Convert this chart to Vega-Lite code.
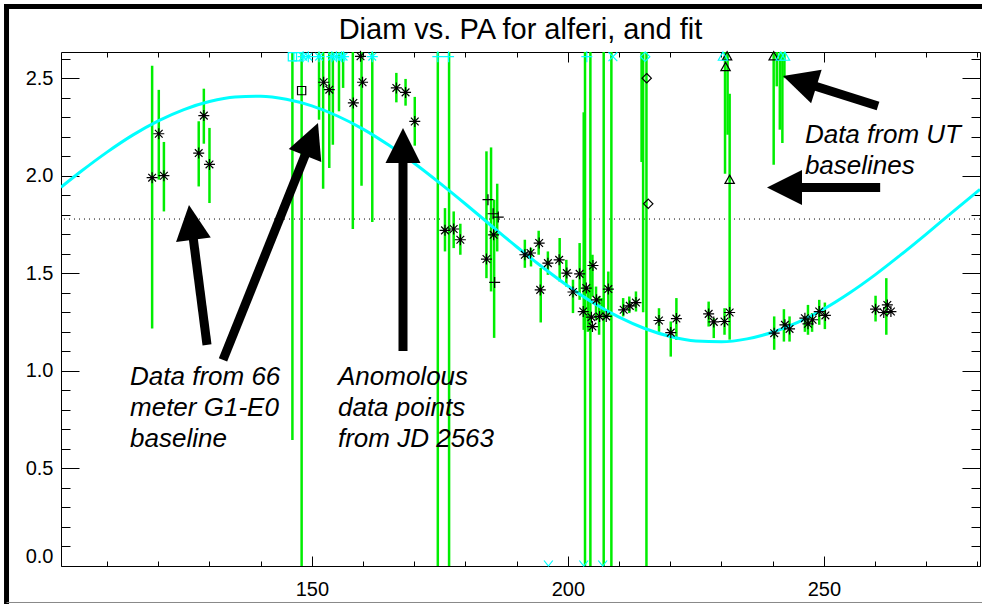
{
  "$schema": "https://vega.github.io/schema/vega-lite/v6.json",
  "width": 919,
  "height": 514,
  "autosize": {"type": "none"},
  "padding": {"left": 61, "top": 52, "right": 2, "bottom": 38},
  "background": "white",
  "title": {"text": "Diam vs. PA for alferi, and fit", "font": "Liberation Sans", "fontSize": 29, "fontWeight": "normal", "color": "black", "anchor": "middle", "frame": "group", "offset": 0, "dy": 67, "baseline": "alphabetic"},
  "config": {
    "view": {"stroke": null},
    "axis": {"domainColor": "black", "domainWidth": 1, "tickColor": "black", "tickWidth": 1, "labelColor": "black", "labelFont": "Liberation Sans", "labelFontSize": 20, "grid": false, "labelOverlap": false, "title": null}
  },
  "datasets": {
    "frame": [
      {"side": "left", "pa": 90.36, "diam": -0.2, "pa2": 90.36, "diam2": 2.88},
      {"side": "top", "pa": 89.87, "diam": 2.867, "pa2": 282, "diam2": 2.867},
      {"side": "bottom", "pa": 90.36, "diam": -0.187, "pa2": 282, "diam2": -0.187}
    ],
    "ref": [{"diam": 1.778}],
    "curve": [
      {"pa": 101, "diam": 1.941}, {"pa": 105, "diam": 2.024}, {"pa": 110, "diam": 2.121}, {"pa": 115, "diam": 2.208},
      {"pa": 120, "diam": 2.281}, {"pa": 125, "diam": 2.339}, {"pa": 130, "diam": 2.380}, {"pa": 135, "diam": 2.403},
      {"pa": 140, "diam": 2.407}, {"pa": 145, "diam": 2.392}, {"pa": 150, "diam": 2.358}, {"pa": 155, "diam": 2.306},
      {"pa": 160, "diam": 2.239}, {"pa": 165, "diam": 2.157}, {"pa": 170, "diam": 2.064}, {"pa": 175, "diam": 1.962},
      {"pa": 180, "diam": 1.855}, {"pa": 185, "diam": 1.745}, {"pa": 190, "diam": 1.636}, {"pa": 195, "diam": 1.532},
      {"pa": 200, "diam": 1.435}, {"pa": 205, "diam": 1.348}, {"pa": 210, "diam": 1.275}, {"pa": 215, "diam": 1.217},
      {"pa": 220, "diam": 1.176}, {"pa": 225, "diam": 1.153}, {"pa": 230, "diam": 1.149}, {"pa": 235, "diam": 1.164},
      {"pa": 240, "diam": 1.198}, {"pa": 245, "diam": 1.250}, {"pa": 250, "diam": 1.317}, {"pa": 255, "diam": 1.399},
      {"pa": 260, "diam": 1.492}, {"pa": 265, "diam": 1.594}, {"pa": 270, "diam": 1.701}, {"pa": 275, "diam": 1.811},
      {"pa": 280.5, "diam": 1.930}
    ],
    "bars": [
      {"pa": 118.8, "lo": 1.217, "hi": 2.564}, {"pa": 120.1, "lo": 1.98, "hi": 2.44}, {"pa": 121.1, "lo": 1.817, "hi": 2.173},
      {"pa": 127.9, "lo": 1.945, "hi": 2.279}, {"pa": 128.9, "lo": 2.164, "hi": 2.446}, {"pa": 130.0, "lo": 1.86, "hi": 2.245},
      {"pa": 146.2, "lo": 0.646, "hi": 3.5}, {"pa": 148.0, "lo": -0.5, "hi": 3.5}, {"pa": 151.4, "lo": 2.287, "hi": 3.5},
      {"pa": 152.2, "lo": 1.933, "hi": 3.5}, {"pa": 153.4, "lo": 2.04, "hi": 3.5}, {"pa": 154.1, "lo": 2.159, "hi": 3.5},
      {"pa": 155.3, "lo": 2.33, "hi": 3.5}, {"pa": 156.1, "lo": 2.45, "hi": 3.5}, {"pa": 158.0, "lo": 1.727, "hi": 3.5},
      {"pa": 159.7, "lo": 1.949, "hi": 3.5}, {"pa": 161.8, "lo": 1.763, "hi": 3.5}, {"pa": 166.5, "lo": 2.376, "hi": 2.527},
      {"pa": 168.3, "lo": 2.359, "hi": 2.496}, {"pa": 170.1, "lo": 2.154, "hi": 2.404}, {"pa": 174.6, "lo": -0.5, "hi": 3.5},
      {"pa": 176.8, "lo": -0.5, "hi": 3.5}, {"pa": 176.0, "lo": 1.612, "hi": 1.834}, {"pa": 177.7, "lo": 1.629, "hi": 1.817},
      {"pa": 179.0, "lo": 1.595, "hi": 1.754}, {"pa": 184.1, "lo": 1.475, "hi": 2.125}, {"pa": 185.0, "lo": 1.407, "hi": 2.145},
      {"pa": 185.6, "lo": 1.169, "hi": 1.877}, {"pa": 186.2, "lo": 1.612, "hi": 1.959}, {"pa": 191.6, "lo": 1.528, "hi": 1.672},
      {"pa": 192.8, "lo": 1.535, "hi": 1.631}, {"pa": 194.3, "lo": 1.595, "hi": 1.718}, {"pa": 194.7, "lo": 1.248, "hi": 1.527},
      {"pa": 196.1, "lo": 1.492, "hi": 1.612}, {"pa": 198.4, "lo": 1.458, "hi": 1.681}, {"pa": 199.7, "lo": 1.432, "hi": 1.569},
      {"pa": 201.0, "lo": 1.296, "hi": 1.467}, {"pa": 202.3, "lo": 1.364, "hi": 1.655}, {"pa": 203.1, "lo": 1.21, "hi": 2.325},
      {"pa": 203.35, "lo": -0.5, "hi": 3.5}, {"pa": 204.4, "lo": -0.5, "hi": 3.5}, {"pa": 203.9, "lo": 1.2, "hi": 1.415},
      {"pa": 204.8, "lo": 1.381, "hi": 1.595}, {"pa": 205.5, "lo": 1.262, "hi": 1.432}, {"pa": 206.1, "lo": 1.185, "hi": 1.381},
      {"pa": 207.0, "lo": -0.5, "hi": 3.5}, {"pa": 206.6, "lo": 1.287, "hi": 1.373}, {"pa": 207.9, "lo": 1.279, "hi": 1.509},
      {"pa": 208.5, "lo": -0.5, "hi": 3.5}, {"pa": 210.8, "lo": 1.279, "hi": 1.373}, {"pa": 212.0, "lo": 1.296, "hi": 1.381},
      {"pa": 213.3, "lo": 1.304, "hi": 1.407}, {"pa": 214.4, "lo": 2.07, "hi": 3.5}, {"pa": 214.7, "lo": 1.3, "hi": 3.5},
      {"pa": 215.35, "lo": -0.5, "hi": 3.5}, {"pa": 217.8, "lo": 1.2, "hi": 1.321}, {"pa": 220.1, "lo": 1.073, "hi": 1.253},
      {"pa": 221.2, "lo": 1.159, "hi": 1.373}, {"pa": 227.5, "lo": 1.227, "hi": 1.355}, {"pa": 228.5, "lo": 1.168, "hi": 1.27},
      {"pa": 230.6, "lo": 1.185, "hi": 1.321}, {"pa": 230.7, "lo": 2.01, "hi": 3.5}, {"pa": 231.2, "lo": 2.21, "hi": 3.5},
      {"pa": 231.6, "lo": 1.16, "hi": 2.42}, {"pa": 240.2, "lo": 2.056, "hi": 3.5}, {"pa": 240.8, "lo": 2.458, "hi": 3.5},
      {"pa": 241.4, "lo": 2.236, "hi": 3.5}, {"pa": 241.9, "lo": 2.168, "hi": 3.5}, {"pa": 242.3, "lo": 2.5, "hi": 3.5},
      {"pa": 240.3, "lo": 1.108, "hi": 1.279}, {"pa": 242.2, "lo": 1.15, "hi": 1.316}, {"pa": 243.3, "lo": 1.15, "hi": 1.279},
      {"pa": 246.3, "lo": 1.2, "hi": 1.279}, {"pa": 246.9, "lo": 1.185, "hi": 1.338}, {"pa": 247.7, "lo": 1.2, "hi": 1.296},
      {"pa": 249.1, "lo": 1.236, "hi": 1.364}, {"pa": 250.2, "lo": 1.214, "hi": 1.35}, {"pa": 260.1, "lo": 1.253, "hi": 1.385},
      {"pa": 262.2, "lo": 1.185, "hi": 1.475}
    ],
    "pts": [
      {"pa": 118.8, "diam": 1.99, "sym": "asterisk"}, {"pa": 120.1, "diam": 2.215, "sym": "asterisk"}, {"pa": 121.1, "diam": 2.0, "sym": "asterisk"},
      {"pa": 127.9, "diam": 2.116, "sym": "asterisk"}, {"pa": 128.9, "diam": 2.308, "sym": "asterisk"}, {"pa": 130.0, "diam": 2.058, "sym": "asterisk"},
      {"pa": 148.0, "diam": 2.436, "sym": "square"},
      {"pa": 152.3, "diam": 2.479, "sym": "asterisk"}, {"pa": 153.4, "diam": 2.441, "sym": "asterisk"}, {"pa": 158.1, "diam": 2.373, "sym": "asterisk"},
      {"pa": 159.9, "diam": 2.479, "sym": "asterisk"}, {"pa": 159.5, "diam": 2.612, "sym": "asterisk"}, {"pa": 166.5, "diam": 2.45, "sym": "asterisk"},
      {"pa": 168.3, "diam": 2.427, "sym": "asterisk"}, {"pa": 170.1, "diam": 2.278, "sym": "asterisk"}, {"pa": 176.0, "diam": 1.72, "sym": "asterisk"},
      {"pa": 177.7, "diam": 1.727, "sym": "asterisk"}, {"pa": 179.0, "diam": 1.672, "sym": "asterisk"}, {"pa": 185.5, "diam": 1.697, "sym": "asterisk"},
      {"pa": 184.1, "diam": 1.573, "sym": "asterisk"},
      {"pa": 184.4, "diam": 1.877, "sym": "plus"}, {"pa": 185.4, "diam": 1.805, "sym": "plus"}, {"pa": 186.4, "diam": 1.788, "sym": "plus"}, {"pa": 185.7, "diam": 1.453, "sym": "plus"},
      {"pa": 191.6, "diam": 1.595, "sym": "asterisk"}, {"pa": 192.7, "diam": 1.604, "sym": "asterisk"}, {"pa": 194.4, "diam": 1.655, "sym": "asterisk"},
      {"pa": 196.1, "diam": 1.552, "sym": "asterisk"}, {"pa": 194.6, "diam": 1.415, "sym": "asterisk"}, {"pa": 198.3, "diam": 1.569, "sym": "asterisk"},
      {"pa": 199.8, "diam": 1.501, "sym": "asterisk"}, {"pa": 202.3, "diam": 1.497, "sym": "asterisk"}, {"pa": 201.0, "diam": 1.404, "sym": "asterisk"},
      {"pa": 204.9, "diam": 1.54, "sym": "asterisk"}, {"pa": 203.6, "diam": 1.424, "sym": "asterisk"}, {"pa": 207.9, "diam": 1.419, "sym": "asterisk"},
      {"pa": 205.6, "diam": 1.364, "sym": "asterisk"}, {"pa": 203.0, "diam": 1.304, "sym": "asterisk"}, {"pa": 206.2, "diam": 1.279, "sym": "asterisk"},
      {"pa": 207.5, "diam": 1.279, "sym": "asterisk"}, {"pa": 204.8, "diam": 1.227, "sym": "asterisk"}, {"pa": 204.6, "diam": 1.275, "sym": "asterisk"},
      {"pa": 210.9, "diam": 1.313, "sym": "asterisk"}, {"pa": 212.1, "diam": 1.333, "sym": "asterisk"}, {"pa": 213.3, "diam": 1.35, "sym": "asterisk"},
      {"pa": 215.4, "diam": 2.50, "sym": "diamond"}, {"pa": 215.7, "diam": 1.856, "sym": "diamond"},
      {"pa": 217.8, "diam": 1.258, "sym": "asterisk"}, {"pa": 220.1, "diam": 1.196, "sym": "asterisk"}, {"pa": 221.2, "diam": 1.268, "sym": "asterisk"},
      {"pa": 227.5, "diam": 1.292, "sym": "asterisk"}, {"pa": 228.5, "diam": 1.251, "sym": "asterisk"}, {"pa": 230.6, "diam": 1.253, "sym": "asterisk"},
      {"pa": 231.6, "diam": 1.299, "sym": "asterisk"},
      {"pa": 230.8, "diam": 2.557, "sym": "triangle"}, {"pa": 231.6, "diam": 1.979, "sym": "triangle"}, {"pa": 231.1, "diam": 2.612, "sym": "triangle"}, {"pa": 240.2, "diam": 2.612, "sym": "triangle"},
      {"pa": 240.3, "diam": 1.193, "sym": "asterisk"}, {"pa": 242.4, "diam": 1.236, "sym": "asterisk"}, {"pa": 243.3, "diam": 1.215, "sym": "asterisk"},
      {"pa": 246.3, "diam": 1.27, "sym": "asterisk"}, {"pa": 246.9, "diam": 1.241, "sym": "asterisk"}, {"pa": 247.8, "diam": 1.262, "sym": "asterisk"},
      {"pa": 249.1, "diam": 1.304, "sym": "asterisk"}, {"pa": 250.3, "diam": 1.284, "sym": "asterisk"}, {"pa": 260.1, "diam": 1.316, "sym": "asterisk"},
      {"pa": 261.7, "diam": 1.299, "sym": "asterisk"}, {"pa": 262.4, "diam": 1.338, "sym": "asterisk"}, {"pa": 263.1, "diam": 1.304, "sym": "asterisk"}
    ],
    "edge": [
      {"pa": 146.2, "diam": 2.61, "sym": "square"}, {"pa": 147.3, "diam": 2.61, "sym": "square"}, {"pa": 148.3, "diam": 2.61, "sym": "asterisk"},
      {"pa": 149.3, "diam": 2.61, "sym": "asterisk"}, {"pa": 151.4, "diam": 2.61, "sym": "asterisk"}, {"pa": 153.9, "diam": 2.61, "sym": "asterisk"},
      {"pa": 154.8, "diam": 2.61, "sym": "asterisk"}, {"pa": 155.8, "diam": 2.61, "sym": "asterisk"}, {"pa": 156.2, "diam": 2.61, "sym": "asterisk"},
      {"pa": 161.8, "diam": 2.61, "sym": "asterisk"}, {"pa": 174.6, "diam": 2.61, "sym": "plus"}, {"pa": 176.7, "diam": 2.61, "sym": "plus"},
      {"pa": 203.7, "diam": 2.61, "sym": "plus"}, {"pa": 208.8, "diam": 2.61, "sym": "x"}, {"pa": 215.1, "diam": 2.61, "sym": "diamond"},
      {"pa": 230.3, "diam": 2.61, "sym": "triangle"}, {"pa": 241.6, "diam": 2.61, "sym": "triangle"}, {"pa": 242.4, "diam": 2.61, "sym": "triangle"},
      {"pa": 196.2, "diam": 0.0, "sym": "v"}, {"pa": 203.1, "diam": 0.0, "sym": "v"}, {"pa": 206.8, "diam": 0.0, "sym": "v"}
    ],
    "shafts": [
      {"id": 1, "pa": 129.52, "diam": 1.133, "pa2": 126.43, "diam2": 1.761},
      {"id": 2, "pa": 132.64, "diam": 1.056, "pa2": 149.93, "diam2": 2.187},
      {"id": 3, "pa": 167.8, "diam": 1.102, "pa2": 167.8, "diam2": 2.155},
      {"id": 4, "pa": 260.58, "diam": 2.357, "pa2": 245.28, "diam2": 2.484},
      {"id": 5, "pa": 261.0, "diam": 1.94, "pa2": 242.31, "diam2": 1.94}
    ],
    "heads": [
      {"id": 1, "pa": 126.43, "diam": 1.761},
      {"id": 2, "pa": 149.93, "diam": 2.187},
      {"id": 3, "pa": 167.8, "diam": 2.155},
      {"id": 4, "pa": 245.28, "diam": 2.484},
      {"id": 5, "pa": 242.31, "diam": 1.94}
    ],
    "notes": [
      {"pa": 114.48, "diam": 0.969, "text": "Data from 66"},
      {"pa": 114.48, "diam": 0.810, "text": "meter G1-E0"},
      {"pa": 114.48, "diam": 0.651, "text": "baseline"},
      {"pa": 155.1, "diam": 0.969, "text": "Anomolous"},
      {"pa": 155.1, "diam": 0.810, "text": "data points"},
      {"pa": 155.1, "diam": 0.651, "text": "from JD 2563"},
      {"pa": 246.3, "diam": 2.209, "text": "Data from UT"},
      {"pa": 246.3, "diam": 2.050, "text": "baselines"}
    ]
  },
  "resolve": {"axis": {"x": "independent", "y": "independent"}},
  "layer": [
    {
      "data": {"name": "frame"},
      "transform": [{"filter": "datum.side !== 'bottom'"}],
      "mark": {"type": "rule", "clip": false, "color": "black", "strokeWidth": 5, "strokeCap": "butt"},
      "encoding": {
        "x": {"field": "pa", "type": "quantitative", "scale": {"domain": [101, 280.5], "nice": false, "zero": false}, "axis": null},
        "y": {"field": "diam", "type": "quantitative", "scale": {"domain": [0, 2.634], "nice": false, "zero": false}, "axis": null},
        "x2": {"field": "pa2"},
        "y2": {"field": "diam2"}
      }
    },
    {
      "data": {"name": "frame"},
      "transform": [{"filter": "datum.side === 'bottom'"}],
      "mark": {"type": "rule", "clip": false, "color": "#888888", "strokeWidth": 1},
      "encoding": {
        "x": {"field": "pa", "type": "quantitative", "scale": {"domain": [101, 280.5], "nice": false, "zero": false}, "axis": null},
        "y": {"field": "diam", "type": "quantitative", "scale": {"domain": [0, 2.634], "nice": false, "zero": false}, "axis": null},
        "x2": {"field": "pa2"},
        "y2": {"field": "diam2"}
      }
    },
    {
      "data": {"name": "ref"},
      "mark": {"type": "rule", "color": "black", "strokeWidth": 1, "strokeDash": [1, 4]},
      "encoding": {
        "y": {"field": "diam", "type": "quantitative", "scale": {"domain": [0, 2.634], "nice": false, "zero": false}, "axis": null}
      }
    },
    {
      "data": {"name": "bars"},
      "mark": {"type": "rule", "color": "#00ee00", "strokeWidth": 2.5, "clip": true},
      "encoding": {
        "x": {"field": "pa", "type": "quantitative", "scale": {"domain": [101, 280.5], "nice": false, "zero": false},
          "axis": {"orient": "bottom", "values": [110, 120, 130, 140, 150, 160, 170, 180, 190, 200, 210, 220, 230, 240, 250, 260, 270, 280],
            "labelExpr": "datum.value % 50 === 0 ? datum.label : ''",
            "tickSize": {"condition": {"test": "datum.value % 50 === 0", "value": -10}, "value": -5},
            "labelPadding": 23}},
        "y": {"field": "lo", "type": "quantitative", "scale": {"domain": [0, 2.634], "nice": false, "zero": false},
          "axis": {"orient": "left", "values": [0, 0.1, 0.2, 0.3, 0.4, 0.5, 0.6, 0.7, 0.8, 0.9, 1.0, 1.1, 1.2, 1.3, 1.4, 1.5, 1.6, 1.7, 1.8, 1.9, 2.0, 2.1, 2.2, 2.3, 2.4, 2.5, 2.6],
            "labelExpr": "round(datum.value * 10) % 5 === 0 ? format(datum.value, '.1f') : ''",
            "tickSize": {"condition": {"test": "round(datum.value * 10) % 5 === 0", "value": -18}, "value": -9},
            "labelBaseline": {"condition": {"test": "datum.value === 0", "value": "bottom"}, "value": "middle"},
            "labelPadding": 26}},
        "y2": {"field": "hi"}
      }
    },
    {
      "data": {"name": "curve"},
      "mark": {"type": "line", "color": "#00ffff", "strokeWidth": 3, "interpolate": "monotone", "clip": true},
      "encoding": {
        "x": {"field": "pa", "type": "quantitative", "scale": {"domain": [101, 280.5], "nice": false, "zero": false},
          "axis": {"orient": "top", "labels": false, "values": [110, 120, 130, 140, 150, 160, 170, 180, 190, 200, 210, 220, 230, 240, 250, 260, 270, 280],
            "tickSize": {"condition": {"test": "datum.value % 50 === 0", "value": -10}, "value": -5}}},
        "y": {"field": "diam", "type": "quantitative", "scale": {"domain": [0, 2.634], "nice": false, "zero": false},
          "axis": {"orient": "right", "labels": false, "values": [0, 0.1, 0.2, 0.3, 0.4, 0.5, 0.6, 0.7, 0.8, 0.9, 1.0, 1.1, 1.2, 1.3, 1.4, 1.5, 1.6, 1.7, 1.8, 1.9, 2.0, 2.1, 2.2, 2.3, 2.4, 2.5, 2.6],
            "tickSize": {"condition": {"test": "round(datum.value * 10) % 5 === 0", "value": -18}, "value": -9}}}
      }
    },
    {
      "data": {"name": "pts"},
      "mark": {"type": "point", "filled": false, "strokeWidth": 1.2, "opacity": 1, "color": "black", "size": 121},
      "encoding": {
        "x": {"field": "pa", "type": "quantitative", "scale": {"domain": [101, 280.5], "nice": false, "zero": false}, "axis": null},
        "y": {"field": "diam", "type": "quantitative", "scale": {"domain": [0, 2.634], "nice": false, "zero": false}, "axis": null},
        "shape": {"field": "sym", "type": "nominal", "legend": null,
          "scale": {"domain": ["asterisk", "plus", "square", "diamond", "triangle", "x", "v"],
            "range": ["M-1,0L1,0M0,-1L0,1M-0.7,-0.7L0.7,0.7M-0.7,0.7L0.7,-0.7", "M-1,0L1,0M0,-1L0,1", "M-0.75,-0.75L0.75,-0.75L0.75,0.75L-0.75,0.75Z", "M0,-0.85L0.85,0L0,0.85L-0.85,0Z", "M0,-0.85L0.85,0.65L-0.85,0.65Z", "M-0.8,-0.8L0.8,0.8M-0.8,0.8L0.8,-0.8", "M-0.8,-1L0,0L0.8,-1"]}}
      }
    },
    {
      "data": {"name": "edge"},
      "mark": {"type": "point", "filled": false, "strokeWidth": 1.2, "opacity": 1, "color": "#00ffff", "size": 121, "clip": false},
      "encoding": {
        "x": {"field": "pa", "type": "quantitative", "scale": {"domain": [101, 280.5], "nice": false, "zero": false}, "axis": null},
        "y": {"field": "diam", "type": "quantitative", "scale": {"domain": [0, 2.634], "nice": false, "zero": false}, "axis": null},
        "shape": {"field": "sym", "type": "nominal", "legend": null}
      }
    },
    {
      "data": {"name": "shafts"},
      "mark": {"type": "rule", "color": "black", "strokeWidth": 9, "strokeCap": "butt"},
      "encoding": {
        "x": {"field": "pa", "type": "quantitative", "scale": {"domain": [101, 280.5], "nice": false, "zero": false}, "axis": null},
        "y": {"field": "diam", "type": "quantitative", "scale": {"domain": [0, 2.634], "nice": false, "zero": false}, "axis": null},
        "x2": {"field": "pa2"},
        "y2": {"field": "diam2"}
      }
    },
    {
      "data": {"name": "heads"},
      "transform": [{"filter": "datum.id === 1"}],
      "mark": {"type": "point", "shape": "M0,-1L1,1L-1,1Z", "filled": true, "color": "black", "opacity": 1, "size": 1225, "angle": 352.7},
      "encoding": {
        "x": {"field": "pa", "type": "quantitative", "scale": {"domain": [101, 280.5], "nice": false, "zero": false}, "axis": null},
        "y": {"field": "diam", "type": "quantitative", "scale": {"domain": [0, 2.634], "nice": false, "zero": false}, "axis": null}
      }
    },
    {
      "data": {"name": "heads"},
      "transform": [{"filter": "datum.id === 2"}],
      "mark": {"type": "point", "shape": "M0,-1L1,1L-1,1Z", "filled": true, "color": "black", "opacity": 1, "size": 1225, "angle": 21.8},
      "encoding": {
        "x": {"field": "pa", "type": "quantitative", "scale": {"domain": [101, 280.5], "nice": false, "zero": false}, "axis": null},
        "y": {"field": "diam", "type": "quantitative", "scale": {"domain": [0, 2.634], "nice": false, "zero": false}, "axis": null}
      }
    },
    {
      "data": {"name": "heads"},
      "transform": [{"filter": "datum.id === 3"}],
      "mark": {"type": "point", "shape": "M0,-1L1,1L-1,1Z", "filled": true, "color": "black", "opacity": 1, "size": 1225, "angle": 0},
      "encoding": {
        "x": {"field": "pa", "type": "quantitative", "scale": {"domain": [101, 280.5], "nice": false, "zero": false}, "axis": null},
        "y": {"field": "diam", "type": "quantitative", "scale": {"domain": [0, 2.634], "nice": false, "zero": false}, "axis": null}
      }
    },
    {
      "data": {"name": "heads"},
      "transform": [{"filter": "datum.id === 4"}],
      "mark": {"type": "point", "shape": "M0,-1L1,1L-1,1Z", "filled": true, "color": "black", "opacity": 1, "size": 1225, "angle": 287.5},
      "encoding": {
        "x": {"field": "pa", "type": "quantitative", "scale": {"domain": [101, 280.5], "nice": false, "zero": false}, "axis": null},
        "y": {"field": "diam", "type": "quantitative", "scale": {"domain": [0, 2.634], "nice": false, "zero": false}, "axis": null}
      }
    },
    {
      "data": {"name": "heads"},
      "transform": [{"filter": "datum.id === 5"}],
      "mark": {"type": "point", "shape": "M0,-1L1,1L-1,1Z", "filled": true, "color": "black", "opacity": 1, "size": 1225, "angle": 270},
      "encoding": {
        "x": {"field": "pa", "type": "quantitative", "scale": {"domain": [101, 280.5], "nice": false, "zero": false}, "axis": null},
        "y": {"field": "diam", "type": "quantitative", "scale": {"domain": [0, 2.634], "nice": false, "zero": false}, "axis": null}
      }
    },
    {
      "data": {"name": "notes"},
      "mark": {"type": "text", "align": "left", "baseline": "middle", "font": "Liberation Sans", "fontSize": 26, "fontStyle": "italic", "color": "black"},
      "encoding": {
        "x": {"field": "pa", "type": "quantitative", "scale": {"domain": [101, 280.5], "nice": false, "zero": false}, "axis": null},
        "y": {"field": "diam", "type": "quantitative", "scale": {"domain": [0, 2.634], "nice": false, "zero": false}, "axis": null},
        "text": {"field": "text"}
      }
    }
  ]
}
